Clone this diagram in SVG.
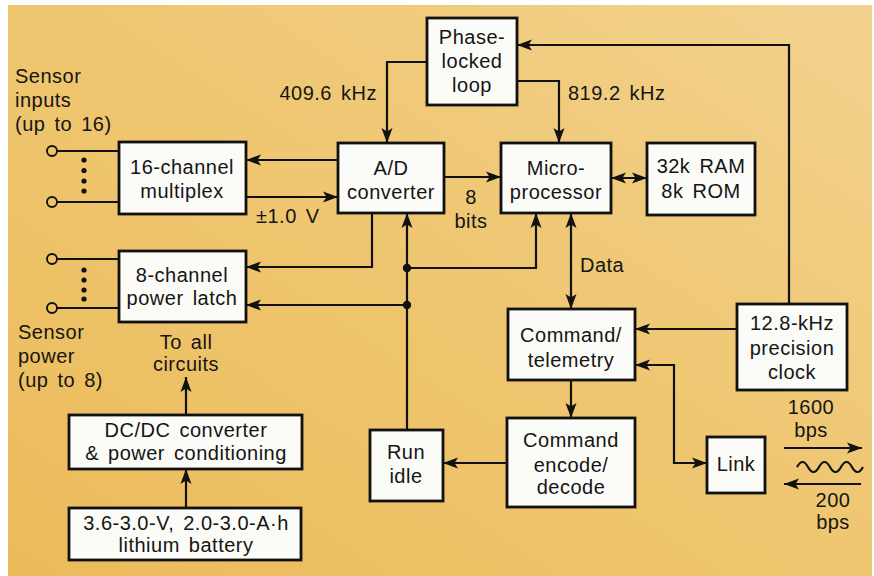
<svg xmlns="http://www.w3.org/2000/svg" width="874" height="576" viewBox="0 0 874 576">
<defs>
<linearGradient id="bg" x1="1" y1="0" x2="0" y2="1">
<stop offset="0" stop-color="#F2D28E"/>
<stop offset="0.5" stop-color="#EFC670"/>
<stop offset="1" stop-color="#EBBB5A"/>
</linearGradient>
<marker id="ah" markerUnits="userSpaceOnUse" markerWidth="16" markerHeight="12" refX="15" refY="5.5" orient="auto-start-reverse" viewBox="0 0 16 11">
<path d="M0,0 L15,5.5 L0,11 L3.5,5.5 z" fill="#111"/>
</marker>
<style>
.box{fill:#FBFBF7;stroke:#111;stroke-width:2.8}
.ln{fill:none;stroke:#111;stroke-width:2.2}
.t{font-family:"Liberation Sans",Arial,sans-serif;font-size:20px;fill:#151515;letter-spacing:0.5px;word-spacing:3px}
.m{text-anchor:middle}
.e{text-anchor:end}
.dot{fill:#111}
.term{fill:none;stroke:#111;stroke-width:1.9}
</style>
</defs>
<rect width="874" height="576" fill="#fff"/>
<rect x="8" y="5" width="864" height="571" fill="url(#bg)"/>

<g id="connectors">
<path class="ln" d="M426,62 H387 V143" marker-end="url(#ah)"/>
<path class="ln" d="M517,81 H559 V143" marker-end="url(#ah)"/>
<path class="ln" d="M789,304 V45 H517" marker-end="url(#ah)"/>
<path class="ln" d="M338,160 H246" marker-end="url(#ah)"/>
<path class="ln" d="M246,197 H338" marker-end="url(#ah)"/>
<path class="ln" d="M444,177 H501" marker-end="url(#ah)"/>
<path class="ln" d="M611,178 H647" marker-start="url(#ah)" marker-end="url(#ah)"/>
<path class="ln" d="M372,213 V267 H246" marker-end="url(#ah)"/>
<path class="ln" d="M407,430 V213" marker-end="url(#ah)"/>
<path class="ln" d="M407,268 H536 V213" marker-end="url(#ah)"/>
<path class="ln" d="M407,305 H246" marker-end="url(#ah)"/>
<path class="ln" d="M571,213 V309" marker-start="url(#ah)" marker-end="url(#ah)"/>
<path class="ln" d="M737,329 H635" marker-end="url(#ah)"/>
<path class="ln" d="M707,463 H674 V365 H635" marker-start="url(#ah)" marker-end="url(#ah)"/>
<path class="ln" d="M571,380 V418" marker-end="url(#ah)"/>
<path class="ln" d="M507,463 H443" marker-end="url(#ah)"/>
<path class="ln" d="M186,508 V469" marker-end="url(#ah)"/>
<path class="ln" d="M186,415 V377" marker-end="url(#ah)"/>
<path class="ln" d="M57,151 H119 M57,202 H119 M57,259 H119 M57,308 H119"/>
<path class="ln" d="M784,448 H862" marker-end="url(#ah)"/>
<path class="ln" d="M861,484 H784" marker-end="url(#ah)"/>
<path class="ln" d="M797,467 q5.5,-10 11,0 t11,0 t11,0 t11,0 t11,0 t11,0"/>
<circle class="dot" cx="407" cy="268" r="4.2"/>
<circle class="dot" cx="407" cy="305" r="4.2"/>
</g>

<g id="sensor-inputs">
<circle class="term" cx="52" cy="151" r="5"/>
<circle class="term" cx="52" cy="202" r="5"/>
<circle class="dot" cx="84" cy="160" r="2.6"/>
<circle class="dot" cx="84" cy="170.5" r="2.6"/>
<circle class="dot" cx="84" cy="181" r="2.6"/>
<circle class="dot" cx="84" cy="191" r="2.6"/>
<text class="t" x="15" y="83">Sensor</text>
<text class="t" x="15" y="107">inputs</text>
<text class="t" x="15" y="131">(up to 16)</text>
</g>

<g id="sensor-power">
<circle class="term" cx="52" cy="259" r="5"/>
<circle class="term" cx="52" cy="308" r="5"/>
<circle class="dot" cx="84" cy="270" r="2.6"/>
<circle class="dot" cx="84" cy="280" r="2.6"/>
<circle class="dot" cx="84" cy="290" r="2.6"/>
<circle class="dot" cx="84" cy="299" r="2.6"/>
<text class="t" x="18" y="339">Sensor</text>
<text class="t" x="18" y="363">power</text>
<text class="t" x="18" y="387">(up to 8)</text>
</g>

<g id="pll">
<rect class="box" x="427" y="18" width="90" height="87"/>
<text class="t m" x="472" y="44">Phase-</text>
<text class="t m" x="472" y="68">locked</text>
<text class="t m" x="472" y="92">loop</text>
</g>

<g id="adc">
<rect class="box" x="338" y="143" width="106" height="70"/>
<text class="t m" x="391" y="175">A/D</text>
<text class="t m" x="391" y="199">converter</text>
</g>

<g id="micro">
<rect class="box" x="501" y="143" width="110" height="70"/>
<text class="t m" x="556" y="175">Micro-</text>
<text class="t m" x="556" y="199">processor</text>
</g>

<g id="memory">
<rect class="box" x="647" y="143" width="108" height="72"/>
<text class="t m" x="701" y="173">32k RAM</text>
<text class="t m" x="701" y="198">8k ROM</text>
</g>

<g id="mux">
<rect class="box" x="119" y="142" width="127" height="72"/>
<text class="t m" x="182" y="174">16-channel</text>
<text class="t m" x="182" y="198">multiplex</text>
</g>

<g id="latch">
<rect class="box" x="119" y="251" width="127" height="71"/>
<text class="t m" x="182" y="282">8-channel</text>
<text class="t m" x="182" y="305">power latch</text>
</g>

<g id="cmdtel">
<rect class="box" x="508" y="309" width="127" height="71"/>
<text class="t m" x="571" y="342">Command/</text>
<text class="t m" x="571" y="367">telemetry</text>
</g>

<g id="clock">
<rect class="box" x="737" y="304" width="110" height="86"/>
<text class="t m" x="792" y="330">12.8-kHz</text>
<text class="t m" x="792" y="355">precision</text>
<text class="t m" x="792" y="379">clock</text>
</g>

<g id="encode">
<rect class="box" x="507" y="418" width="128" height="89"/>
<text class="t m" x="571" y="447">Command</text>
<text class="t m" x="571" y="472">encode/</text>
<text class="t m" x="571" y="494">decode</text>
</g>

<g id="runidle">
<rect class="box" x="370" y="430" width="73" height="71"/>
<text class="t m" x="406" y="459">Run</text>
<text class="t m" x="406" y="483">idle</text>
</g>

<g id="link">
<rect class="box" x="707" y="437" width="58" height="56"/>
<text class="t m" x="736" y="471">Link</text>
</g>

<g id="dcdc">
<rect class="box" x="69" y="415" width="233" height="54"/>
<text class="t m" x="186" y="437">DC/DC converter</text>
<text class="t m" x="186" y="460">&amp; power conditioning</text>
</g>

<g id="battery">
<rect class="box" x="69" y="508" width="232" height="52"/>
<text class="t m" x="186" y="530">3.6-3.0-V, 2.0-3.0-A·h</text>
<text class="t m" x="186" y="552">lithium battery</text>
</g>

<g id="labels">
<text class="t e" x="377" y="100">409.6 kHz</text>
<text class="t" x="568" y="100">819.2 kHz</text>
<text class="t" x="256" y="223">±1.0 V</text>
<text class="t m" x="471" y="204">8</text>
<text class="t m" x="471" y="228">bits</text>
<text class="t" x="580" y="272">Data</text>
<text class="t m" x="186" y="349">To all</text>
<text class="t m" x="186" y="371">circuits</text>
<text class="t m" x="811" y="414">1600</text>
<text class="t m" x="811" y="437">bps</text>
<text class="t m" x="833" y="507">200</text>
<text class="t m" x="833" y="529">bps</text>
</g>
</svg>
